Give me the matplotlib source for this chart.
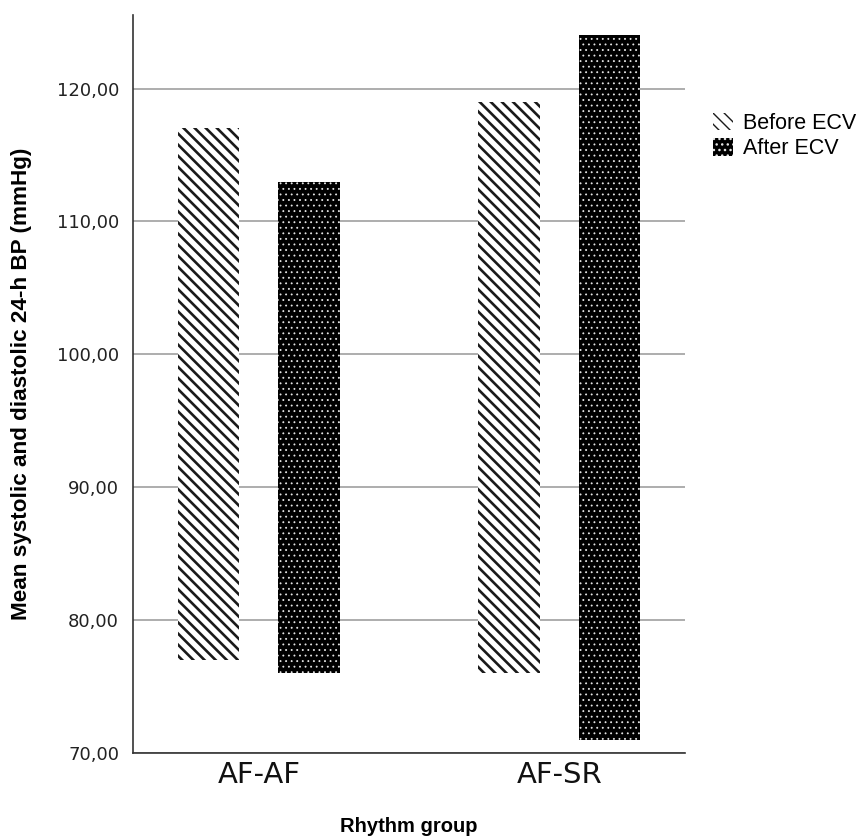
import matplotlib
matplotlib.use("Agg")
import matplotlib.pyplot as plt
import numpy as np

# Rhythm groups and blood pressure ranges (mean diastolic -> mean systolic, mmHg)
groups = ["AF-AF", "AF-SR"]
series = ["Before ECV", "After ECV"]
low_before = [77, 76]
high_before = [117, 119]
low_after = [76, 71]
high_after = [113, 124]
y_ticks = [70, 80, 90, 100, 110, 120]
y_tick_labels = ["70,00", "80,00", "90,00", "100,00", "110,00", "120,00"]

fig = plt.figure(figsize=(8.63, 8.4), dpi=100)
ax = fig.add_axes([0.154, 0.1036, 0.64, 0.878])

x = np.arange(len(groups))
offset = 0.167
width = 0.204

lb, hb = np.array(low_before), np.array(high_before)
la, ha = np.array(low_after), np.array(high_after)

with plt.rc_context({"hatch.linewidth": 1.9}):
    ax.bar(x - offset, hb - lb, bottom=lb, width=width, facecolor="white",
           edgecolor="#1a1a1a", linewidth=0, hatch="\\\\\\", label=series[0], zorder=3)
with plt.rc_context({"hatch.linewidth": 0.6}):
    ax.bar(x + offset, ha - la, bottom=la, width=width, facecolor="black",
           edgecolor="#e6e6e6", linewidth=0, hatch="...", label=series[1], zorder=3)

ax.set_ylim(70, 125.5)
ax.set_xlim(-0.42, 1.42)
ax.set_yticks(y_ticks)
ax.set_yticklabels(y_tick_labels, fontsize=13, color="#222222")
ax.set_xticks(x)
ax.set_xticklabels(groups, fontsize=21, color="#111111")
ax.tick_params(axis="both", length=0)
ax.tick_params(axis="y", pad=10)
ax.tick_params(axis="x", pad=6)

ax.yaxis.grid(True, color="#a0a0a0", linewidth=1.2, zorder=0)
ax.set_axisbelow(True)
for s in ["top", "right"]:
    ax.spines[s].set_visible(False)
for s in ["left", "bottom"]:
    ax.spines[s].set_color("#333333")
    ax.spines[s].set_linewidth(1.2)

ylab = ax.set_ylabel("Mean systolic and diastolic 24-h BP (mmHg)", fontsize=16.2,
                     fontweight="bold", family="Liberation Sans")
ylab.set_va("center")
ax.yaxis.set_label_coords(-0.201, 0.5)
xlab = ax.set_xlabel("Rhythm group", fontsize=14.5, fontweight="bold",
                     family="Liberation Sans")
xlab.set_va("center")
ax.xaxis.set_label_coords(0.5, -0.100)

leg = ax.legend(loc="upper left", bbox_to_anchor=(713 / 863, (840 - 113) / 840),
                bbox_transform=fig.transFigure, frameon=False,
                prop={"family": "Liberation Sans", "size": 15.5},
                handlelength=0.93, handleheight=0.85, handletextpad=0.45,
                labelspacing=0.2, borderaxespad=0, borderpad=0)

fig.savefig("out.png", dpi=100, facecolor="white")
